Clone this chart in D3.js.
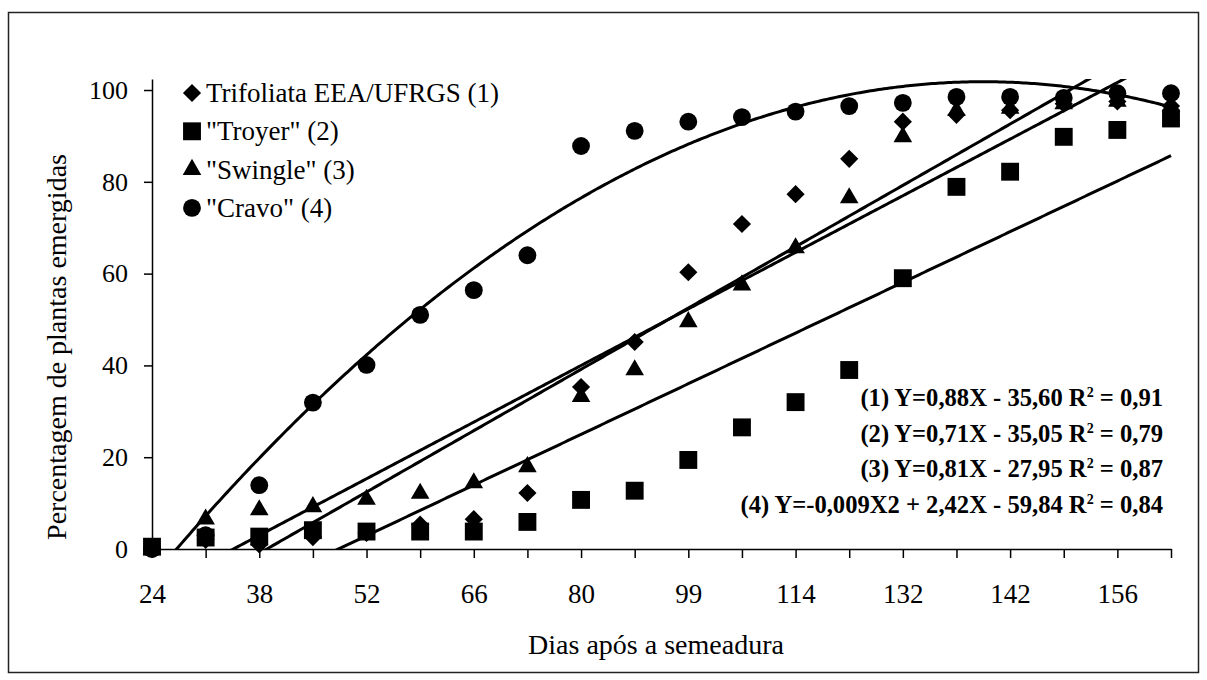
<!DOCTYPE html>
<html>
<head>
<meta charset="utf-8">
<script src="https://cdn.jsdelivr.net/npm/d3@7"></script>
<style>
  body { margin: 0; background: #fff; }
  svg text { font-family: "Liberation Serif", "Times New Roman", serif; fill: #000; }
</style>
</head>
<body>
<svg id="chart" width="1207" height="680"></svg>
<script>
// observation days (only every other one is labelled on the axis)
const days = [24, 31, 38, 45, 52, 59, 66, 73, 80, 87, 99, 106, 114, 122, 132, 137, 142, 149, 156, 163];

const trifoliata = [0, 2, 1, 2.6, 3.5, 5.3, 6.5, 12.2, 35.3, 45.1, 60.3, 70.8, 77.3, 85.0, 93.1, 94.6, 95.6, 97, 97.5, 96.5];
const troyer = [0.5, 2.5, 2.7, 4.1, 3.8, 3.8, 3.8, 5.9, 10.7, 12.7, 19.4, 26.5, 32.0, 39.0, 59.0, 78.9, 82.2, 89.8, 91.3, 93.8];
const swingle = [0, 6.5, 8.5, 9.2, 10.8, 12.1, 14.4, 17.9, 33.2, 39.0, 49.5, 57.5, 65.6, 76.5, 89.8, 95.5, 96, 97, 97.5, 96.5];
const cravo = [0, 3, 13.9, 31.9, 40.1, 51.0, 56.4, 64.0, 87.8, 91.1, 93.1, 94.1, 95.3, 96.5, 97.2, 98.5, 98.5, 98.3, 99.3, 99.3];

const seriesNames = ['Trifoliata EEA/UFRGS (1)', '"Troyer" (2)', '"Swingle" (3)', '"Cravo" (4)'];
const seriesShapes = ['diamond', 'square', 'triangle', 'circle'];

// trend curves as drawn, on the category index i: a*i^2 + b*i + c
const trendCoef = [
  [0, 6.68, -14.30],
  [0, 5.52, -19.19],
  [0, 6.166, -9.354],
  [-0.45, 13.95, -6.31]
];

const eqStart = ['(1) Y=0,88X - 35,60 R', '(2) Y=0,71X - 35,05 R', '(3) Y=0,81X - 27,95 R', '(4) Y=-0,009X2 + 2,42X - 59,84 R'];
const eqEnd = [' = 0,91', ' = 0,79', ' = 0,87', ' = 0,84'];

const yTicks = [0, 20, 40, 60, 80, 100];

const svg = d3.select('#chart');
const seriesData = [trifoliata, troyer, swingle, cravo];

// outer frame
svg.append('rect')
  .attr('x', 8.5).attr('y', 12.5)
  .attr('width', 1190).attr('height', 660)
  .attr('fill', 'none').attr('stroke', '#222').attr('stroke-width', 1.5);

const x = d3.scaleLinear().domain([0, days.length - 1]).range([152, 1171]);
const y = d3.scaleLinear().domain([0, 102.4]).range([549, 79]);

const symbolFor = {
  diamond: d3.symbol(d3.symbolSquare, 165)(),
  square: d3.symbol(d3.symbolSquare, 320)(),
  triangle: d3.symbol(d3.symbolTriangle, 150)(),
  circle: d3.symbol(d3.symbolCircle, 250)()
};
const rotFor = s => s === 'diamond' ? ' rotate(45)' : '';

// axes
const yAxis = svg.append('g')
  .attr('transform', 'translate(' + x(0) + ',0)')
  .call(d3.axisLeft(y).tickValues(yTicks).tickSize(8).tickSizeOuter(0).tickPadding(16));
yAxis.selectAll('text').attr('font-size', 26).style('font-family', '"Liberation Serif", serif');

const xAxis = svg.append('g')
  .attr('transform', 'translate(0,' + y(0) + ')')
  .call(d3.axisBottom(x)
    .tickValues(d3.range(days.length))
    .tickFormat(i => i % 2 === 0 ? days[i] : '')
    .tickSize(9).tickSizeOuter(0).tickPadding(26));
xAxis.selectAll('text').attr('font-size', 27).style('font-family', '"Liberation Serif", serif');

svg.selectAll('.domain, .tick line').attr('stroke', '#000').attr('stroke-width', 1.5);

// axis titles
svg.append('text')
  .attr('x', 656).attr('y', 654)
  .attr('text-anchor', 'middle')
  .attr('font-size', 28)
  .text('Dias após a semeadura');

svg.append('text')
  .attr('transform', 'translate(66,347) rotate(-90)')
  .attr('text-anchor', 'middle')
  .attr('font-size', 28)
  .text('Percentagem de plantas emergidas');

// trend lines, clipped to the plot area
svg.append('defs').append('clipPath').attr('id', 'plotClip')
  .append('rect')
  .attr('x', x(0)).attr('y', y(102.4))
  .attr('width', x(days.length - 1) - x(0) + 4)
  .attr('height', y(0) - y(102.4));

const steps = d3.range(0, days.length - 1 + 0.001, 0.05);
const trendLine = d3.line().x(d => x(d[0])).y(d => y(d[1]));

svg.append('g').attr('clip-path', 'url(#plotClip)')
  .selectAll('path')
  .data(trendCoef)
  .join('path')
  .attr('d', c => trendLine(steps.map(i => [i, c[0] * i * i + c[1] * i + c[2]])))
  .attr('fill', 'none')
  .attr('stroke', '#000')
  .attr('stroke-width', 3);

// markers
seriesData.forEach((vals, s) => {
  svg.append('g').selectAll('path')
    .data(vals)
    .join('path')
    .attr('d', symbolFor[seriesShapes[s]])
    .attr('transform', (v, i) => 'translate(' + x(i) + ',' + y(v) + ')' + rotFor(seriesShapes[s]))
    .attr('fill', '#000');
});

// legend
const legend = svg.append('g').selectAll('g')
  .data(seriesNames)
  .join('g')
  .attr('transform', (d, i) => 'translate(192,' + (93 + i * 38.3) + ')');

legend.append('path')
  .attr('d', (d, i) => symbolFor[seriesShapes[i]])
  .attr('transform', (d, i) => seriesShapes[i] === 'diamond' ? 'rotate(45)' : null)
  .attr('fill', '#000');

legend.append('text')
  .attr('x', 14).attr('y', 9)
  .attr('font-size', 27)
  .text(d => d);

// regression equations
const eq = svg.append('g').selectAll('text')
  .data(eqStart)
  .join('text')
  .attr('x', 1163)
  .attr('y', (d, i) => 406 + i * 35.7)
  .attr('text-anchor', 'end')
  .attr('font-size', 24.6)
  .attr('font-weight', 'bold');

eq.append('tspan').text(d => d);
eq.append('tspan').attr('dy', -9).attr('font-size', 14).text('2');
eq.append('tspan').attr('dy', 9).text((d, i) => eqEnd[i]);
</script>
</body>
</html>
